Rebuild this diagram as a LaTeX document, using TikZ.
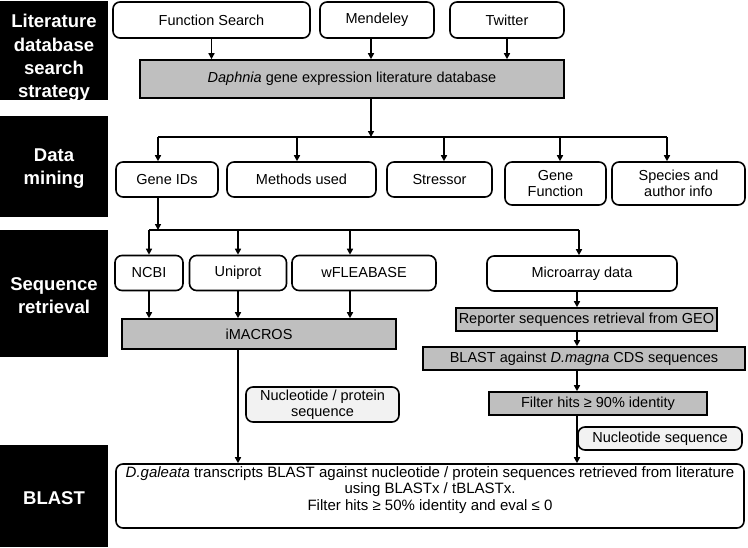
\documentclass[tikz,border=0pt]{standalone}
\usepackage{fontspec}
\setmainfont{Liberation Sans}
\usetikzlibrary{arrows.meta}
\usetikzlibrary{calc}
\definecolor{boxgrey}{HTML}{BFBFBF}
\definecolor{notegrey}{HTML}{F2F2F2}
\newcommand\boxfont{\fontsize{14.5}{16.5}\selectfont}
\newcommand\blastfont{\fontsize{15}{16.7}\selectfont}
\newcommand\stagefont{\fontsize{18.5}{23.3}\selectfont\bfseries}
\tikzset{%
    stage/.style={fill=black, minimum width=108pt, inner sep=0pt},
    stagetext/.style={text=white, font=\stagefont, align=center, inner sep=0pt},
    box/.style={draw, line width=1.6pt, rounded corners=7pt, font=\boxfont,
        align=center, inner sep=0pt},
    greybox/.style={draw, line width=1.6pt, fill=boxgrey, font=\boxfont,
        align=center, inner sep=0pt},
    notebox/.style={box, fill=notegrey},
    blasttext/.style={font=\blastfont, align=center, inner sep=0pt},
    flow/.style={line width=1.6pt, -{Triangle[length=6pt,width=6pt]}},
    bar/.style={line width=1.6pt},
}

\begin{document}
\begin{tikzpicture}[x=1pt,y=-1pt]
\useasboundingbox (0,0) rectangle (748,547);
\node (lit) [stage, minimum height=99pt,
    label={[stagetext, yshift=-7.5pt]center:{Literature\\database\\search\\strategy}}] at (54,50.5) {};
\node (mine) [stage, minimum height=101pt,
    label={[stagetext, yshift=-2pt]center:{Data\\mining}}] at (54,166.5) {};
\node (seq) [stage, minimum height=127pt,
    label={[stagetext, yshift=-2pt]center:{Sequence\\retrieval}}] at (54,293.5) {};
\node (bl) [stage, minimum height=102pt,
    label={[stagetext, yshift=-2.5pt]center:{BLAST}}] at (54,496) {};
%
\node (fs) [box, minimum width=197pt, minimum height=36pt] at (211.5,20) {Function Search};
\node (mend) [box, minimum width=114pt, minimum height=36pt] at (377,20) {Mendeley};
\node (tw) [box, minimum width=114pt, minimum height=36pt] at (507,20) {Twitter};
\node (db) [greybox, minimum width=424pt, minimum height=38pt] at (352,79) {\textit{Daphnia} gene expression literature database};
\draw [flow] (fs) -- (fs |- db.north);
\draw [flow] ([xshift=-6pt]mend.south) -- ([xshift=-6pt]mend.south |- db.north);
\draw [flow] (tw) -- (tw |- db.north);
%
\node (gid) [box, minimum width=102pt, minimum height=35pt] at (167,179.5) {Gene IDs};
\node (meth) [box, minimum width=149pt, minimum height=35pt] at (301.5,179.5) {Methods used};
\node (stress) [box, minimum width=105pt, minimum height=35pt] at (439.5,179.5) {Stressor};
\node (gfun) [box, minimum width=101pt, minimum height=43pt] at (555.5,183.5) {Gene\\Function};
\node (spec) [box, minimum width=133pt, minimum height=43pt] at (678.5,183.5) {Species and\\author info};
\coordinate (split1) at (371,137);
\draw [flow] (db.south -| split1) -- (split1);
\draw [bar] ([xshift=-9pt]gid.north |- split1) -- ([xshift=-11.5pt]spec.north |- split1);
\foreach \n/\s in {gid/-9, meth/-4.5, stress/4.5, gfun/4.5, spec/-11.5}
    \draw [flow] ([xshift=\s pt]\n.north |- split1) -- ([xshift=\s pt]\n.north);
%
\node (ncbi) [box, minimum width=68pt, minimum height=35pt] at (149,273) {NCBI};
\node (uni) [box, minimum width=97pt, minimum height=35pt] at (238,273) {Uniprot};
\node (wfl) [box, minimum width=144pt, minimum height=35pt] at (364,273) {wFLEABASE};
\node (micro) [box, minimum width=190pt, minimum height=35pt] at (582,273.5) {Microarray data};
\coordinate (split2) at (158,230);
\draw [flow] ([xshift=-9pt]gid.south) -- (split2);
\draw [bar] (ncbi.north |- split2) -- ([xshift=-3pt]micro.north |- split2);
\foreach \n/\s in {ncbi/0, uni/0, wfl/-14, micro/-3}
    \draw [flow] ([xshift=\s pt]\n.north |- split2) -- ([xshift=\s pt]\n.north);
%
\node (imac) [greybox, minimum width=274pt, minimum height=30pt] at (259,334) {iMACROS};
\draw [flow] (ncbi) -- (ncbi |- imac.north);
\draw [flow] (uni) -- (uni |- imac.north);
\draw [flow] ([xshift=-14pt]wfl.south) -- ([xshift=-14pt]wfl.south |- imac.north);
\node (nps) [notebox, minimum width=153pt, minimum height=35pt] at (322.5,404.5) {Nucleotide / protein\\sequence};
%
\coordinate (chain) at (577,0);
\node (rep) [greybox, minimum width=261pt, minimum height=23pt] at (586.5,319.5) {Reporter sequences retrieval from GEO};
\node (bm) [greybox, minimum width=322pt, minimum height=23pt] at (584,358.5) {BLAST against \textit{D.magna} CDS sequences};
\node (filt) [greybox, minimum width=218pt, minimum height=23pt] at (598,403.5) {Filter hits ≥ 90\% identity};
\node (ns) [notebox, minimum width=164pt, minimum height=23pt] at (660,438.5) {Nucleotide sequence};
\draw [flow] (micro.south -| chain) -- (rep.north -| chain);
\draw [flow] (rep.south -| chain) -- (bm.north -| chain);
\draw [flow] (bm.south -| chain) -- (filt.north -| chain);
%
\node (blast) [box, minimum width=628pt, minimum height=64pt,
    label={[blasttext, yshift=6pt]center:{\textit{D.galeata} transcripts BLAST against nucleotide / protein sequences retrieved from literature\\using BLASTx / tBLASTx.\\Filter hits ≥ 50\% identity and eval ≤ 0}}] at (430,496) {};
\draw [flow] (imac.south -| uni) -- (blast.north -| uni);
\draw [flow] (filt.south -| chain) -- (blast.north -| chain);
\end{tikzpicture}
\end{document}
